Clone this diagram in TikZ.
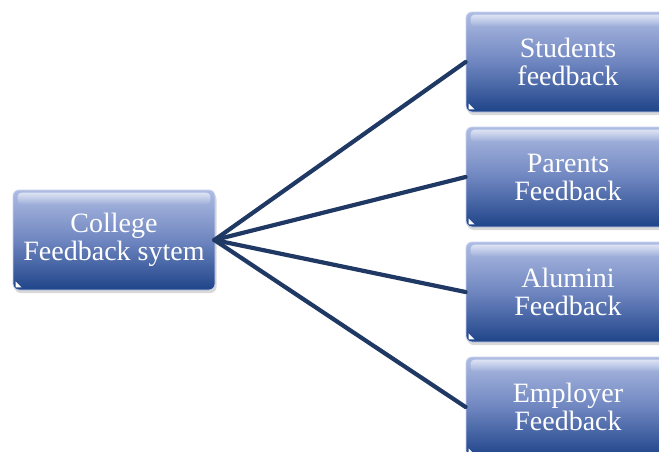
\documentclass[tikz,border=0pt]{standalone}
\usepackage{fontspec}
\setmainfont{Liberation Serif}
\usetikzlibrary{shadows,fadings}
\definecolor{boxtop}{HTML}{AEBCE3}
\definecolor{boxmid}{HTML}{6F86C0}
\definecolor{boxbot}{HTML}{1F4489}
\definecolor{boxedge}{HTML}{C9D3EE}
\definecolor{linkcol}{HTML}{1F3864}
\begin{document}
\begin{tikzpicture}[x=1pt,y=-1pt,
  fbbox/.style={rounded corners=6pt, minimum width=202pt, minimum height=100pt,
    top color=boxtop, bottom color=boxbot, middle color=boxmid,
    draw=boxedge, line width=0.8pt, text=white,
    font=\fontsize{28}{28}\selectfont, align=center, inner sep=0pt,
    drop shadow={opacity=0.3, shadow xshift=1.5pt, shadow yshift=-3pt}},
  gloss/.style={fill=white, opacity=0.6, rounded corners=4pt, path fading=south},
  corner/.style={fill=white},
  link/.style={draw=linkcol, line width=4.2pt, line cap=round}]
\useasboundingbox (0,0) rectangle (659,451);
\clip (0,0) rectangle (659,451);
\node[fbbox] (col) at (114,240) {College\\Feedback sytem};
\node[fbbox, minimum width=204pt] (stu) at (568,62) {Students\\feedback};
\node[fbbox, minimum width=204pt] (par) at (568,177) {Parents\\Feedback};
\node[fbbox, minimum width=204pt] (alu) at (568,292) {Alumini\\Feedback};
\node[fbbox, minimum width=204pt] (emp) at (568,407) {Employer\\Feedback};
\foreach \n in {col,stu,par,alu,emp}{
  \fill[gloss] ([shift={(5pt,-3pt)}]\n.north west) rectangle ([shift={(-5pt,-15pt)}]\n.north east);
  \fill[corner] ([shift={(3pt,3pt)}]\n.south west) -- ++(6pt,0pt) -- ++(-6pt,6pt) -- cycle;
}
\coordinate (hub) at ([xshift=-1pt]col.east);
\foreach \n in {stu,par,alu,emp}{
  \draw[link] (hub) -- (\n.west);
}
\end{tikzpicture}
\end{document}
